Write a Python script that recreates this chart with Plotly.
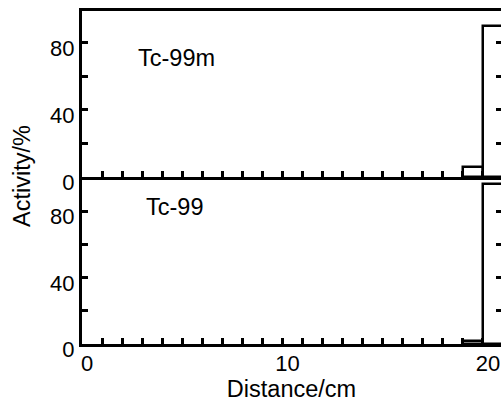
import plotly.graph_objects as go

# ---- data ----
bin_centers = [19.5, 20.5]          # bins 19-20 cm and 20-21 cm
bin_width = 1.0
tc99m_activity = [6, 90]            # %
tc99_activity = [2, 97]             # %
x_tick_vals = list(range(0, 21))
x_tick_text = ["0" if v == 0 else "10" if v == 10 else "20" if v == 20 else "" for v in x_tick_vals]
y_tick_vals = [0, 20, 40, 60, 80]
y_tick_text = ["0", "", "40", "", "80"]

W, H = 501, 405
FONT = "Liberation Sans, Arial, Helvetica, sans-serif"
FS = 22
FS_T = 23.5

def px_x(p):
    return p / W

def px_y(p):
    return 1 - p / H

x_dom = [px_x(82), 1.0]
bot_dom = [px_y(344), px_y(177)]
top_dom = [px_y(177), px_y(11)]
x_range = [0, 20.9]

fig = go.Figure()
bar_style = dict(width=bin_width, marker=dict(color="white", line=dict(color="black", width=2.5)),
                 showlegend=False, hoverinfo="x+y")
fig.add_trace(go.Bar(x=bin_centers, y=tc99m_activity, xaxis="x2", yaxis="y2", name="Tc-99m", **bar_style))
fig.add_trace(go.Bar(x=bin_centers, y=tc99_activity, xaxis="x", yaxis="y", name="Tc-99", **bar_style))
# empty helper traces so the mirrored right-hand tick axes are drawn
fig.add_trace(go.Scatter(x=[None], y=[None], xaxis="x", yaxis="y3", showlegend=False, hoverinfo="skip"))
fig.add_trace(go.Scatter(x=[None], y=[None], xaxis="x2", yaxis="y4", showlegend=False, hoverinfo="skip"))

axis_common = dict(showgrid=False, zeroline=False, showline=True, linecolor="black", linewidth=3,
                   ticks="inside", tickcolor="black", color="black", automargin=False,
                   layer="above traces",
                   tickfont=dict(family=FONT, size=FS, color="black"))

x_common = dict(axis_common, domain=x_dom, range=x_range, tickmode="array",
                tickvals=x_tick_vals, ticktext=x_tick_text, ticklen=6, tickwidth=2.5)
y_common = dict(axis_common, tickmode="array", tickvals=y_tick_vals, ticktext=y_tick_text,
                ticklen=6, tickwidth=2.5, ticklabelstandoff=0, ticklabelshift=5)

right_ticks = dict(showgrid=False, zeroline=False, showline=False, ticks="inside", ticklen=5,
                   tickwidth=2.5, tickcolor="black", showticklabels=False, side="right",
                   automargin=False, layer="above traces",
                   tickmode="array", tickvals=[20, 40, 60, 80])

fig.update_layout(
    width=W, height=H,
    margin=dict(l=0, r=0, t=0, b=0, autoexpand=False),
    paper_bgcolor="white", plot_bgcolor="rgba(0,0,0,0)",
    font=dict(family=FONT, size=FS, color="black"),
    bargap=0,
    xaxis=dict(x_common, anchor="y", ticklabelshift=5, ticklabelstandoff=-2,
               title=dict(text="Distance/cm", standoff=0, font=dict(family=FONT, size=FS_T))),
    yaxis=dict(y_common, domain=bot_dom, range=[0, 101], anchor="x"),
    xaxis2=dict(x_common, anchor="y2", showticklabels=False, mirror=True),
    yaxis2=dict(y_common, domain=top_dom, range=[0, 99], anchor="x2"),
    yaxis3=dict(right_ticks, overlaying="y", anchor="x", range=[0, 101]),
    yaxis4=dict(right_ticks, overlaying="y2", anchor="x2", range=[0, 99]),
    annotations=[
        dict(text="Tc-99m", x=px_x(136), y=px_y(58), xref="paper", yref="paper",
             xanchor="left", yanchor="middle", showarrow=False, font=dict(family=FONT, size=FS_T)),
        dict(text="Tc-99", x=px_x(144), y=px_y(207), xref="paper", yref="paper",
             xanchor="left", yanchor="middle", showarrow=False, font=dict(family=FONT, size=FS_T)),
        dict(text="Activity/%", x=px_x(22), y=px_y(176), xref="paper", yref="paper",
             xanchor="center", yanchor="middle", textangle=-90, showarrow=False,
             font=dict(family=FONT, size=FS_T)),
    ],
)

fig.write_html("out.html")
